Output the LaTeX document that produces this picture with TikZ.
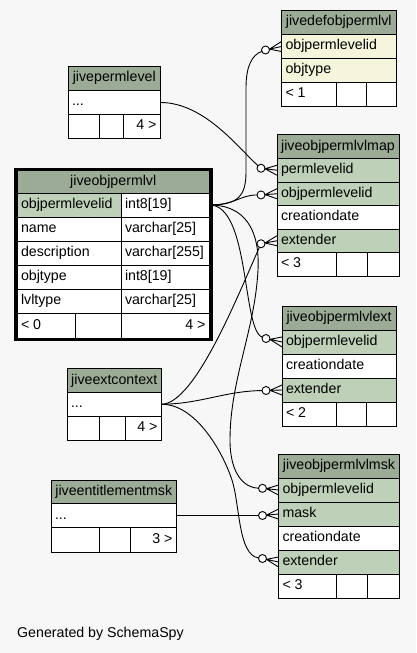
\documentclass[tikz,border=0pt]{standalone}
\usepackage{fontspec}
\setmainfont{Liberation Sans}
\usetikzlibrary{calc}
\definecolor{bg}{HTML}{F7F7F7}
\definecolor{hd}{HTML}{9BAB96}
\definecolor{ky}{HTML}{BED1B8}
\definecolor{ix}{HTML}{F5F5DC}
\newcommand\tfont{\fontsize{14.2bp}{17bp}\selectfont}
\tikzset{
 cell/.style={draw=black, line width=0.8bp, anchor=north west, inner xsep=4bp, inner ysep=0pt, outer sep=0pt, text height=10bp, text depth=3bp, font=\tfont},
 conn/.style={draw=black, line width=0.9bp},
 endcirc/.style={circle, draw=black, fill=white, line width=0.9bp, minimum size=8bp, inner sep=0pt, outer sep=0pt},
 frame/.style={draw=black, line width=3bp},
}
% name, x, y, width, height, fill, align, text
\newcommand\cell[8]{\node[cell, fill=#6, minimum height=#5bp] (#1) at (#2,#3) {\makebox[\dimexpr#4bp-8bp\relax][#7]{#8}};}
% row node, dy, circle name
\newcommand\zmany[3]{%
 \node[endcirc] (#3) at ([shift={(-16,#2)}]#1.west) {};
 \draw[conn] ($(#3.center)!4bp!(#1.west)$) coordinate (#3-a) -- ([yshift=5bp]#1.west)
   (#3-a) -- (#1.west) (#3-a) -- ([yshift=-5bp]#1.west);}
\begin{document}
\begin{tikzpicture}[x=1bp,y=-1bp]
\useasboundingbox (0,0) rectangle (416,653);
\fill[bg] (0,0) rectangle (416,653);

% jivedefobjpermlvl
\cell{def-h}{281.5}{10.5}{114.5}{24}{hd}{c}{jivedefobjpermlvl}
\cell{def-id}{281.5}{34.5}{114.5}{24}{ix}{l}{objpermlevelid}
\cell{def-type}{281.5}{58.5}{114.5}{24}{ix}{l}{objtype}
\cell{def-f1}{281.5}{82.5}{54.5}{24}{white}{l}{< 1}
\cell{def-f2}{336}{82.5}{30}{24}{white}{l}{}
\cell{def-f3}{366}{82.5}{30}{24}{white}{r}{}

% jivepermlevel
\cell{perm-h}{68}{66.5}{92.5}{24}{hd}{c}{jivepermlevel}
\cell{perm-r}{68}{90.5}{92.5}{24}{white}{l}{...}
\cell{perm-f1}{68}{114.5}{31.5}{24}{white}{l}{}
\cell{perm-f2}{99.5}{114.5}{24}{24}{white}{l}{}
\cell{perm-f3}{123.5}{114.5}{37}{24}{white}{r}{4 >}

% jiveobjpermlvl
\cell{opl-h}{17}{170.5}{192.5}{22.5}{hd}{c}{jiveobjpermlvl}
\cell{opl-id}{17}{193}{104}{24}{ky}{l}{objpermlevelid}
\cell{opl-idt}{121}{193}{88.5}{24}{white}{l}{int8[19]}
\cell{opl-name}{17}{217}{104}{24}{white}{l}{name}
\cell{opl-namet}{121}{217}{88.5}{24}{white}{l}{varchar[25]}
\cell{opl-desc}{17}{241}{104}{24}{white}{l}{description}
\cell{opl-desct}{121}{241}{88.5}{24}{white}{l}{varchar[255]}
\cell{opl-obj}{17}{265}{104}{24}{white}{l}{objtype}
\cell{opl-objt}{121}{265}{88.5}{24}{white}{l}{int8[19]}
\cell{opl-lvl}{17}{289}{104}{24}{white}{l}{lvltype}
\cell{opl-lvlt}{121}{289}{88.5}{24}{white}{l}{varchar[25]}
\cell{opl-f1}{17}{313}{58}{25}{white}{l}{< 0}
\cell{opl-f2}{75}{313}{46}{25}{white}{l}{}
\cell{opl-f3}{121}{313}{88.5}{25}{white}{r}{4 >}
\draw[frame] ([shift={(-1.5,-1.5)}]opl-h.north west) rectangle ([shift={(1.5,1.5)}]opl-f3.south east);

% jiveobjpermlvlmap
\cell{map-h}{277}{134.5}{122}{24}{hd}{c}{jiveobjpermlvlmap}
\cell{map-perm}{277}{158.5}{122}{23.5}{ky}{l}{permlevelid}
\cell{map-id}{277}{182}{122}{23.5}{ky}{l}{objpermlevelid}
\cell{map-cd}{277}{205.5}{122}{23.5}{white}{l}{creationdate}
\cell{map-ext}{277}{229}{122}{23.5}{ky}{l}{extender}
\cell{map-f1}{277}{252.5}{59}{23.5}{white}{l}{< 3}
\cell{map-f2}{336}{252.5}{31.5}{23.5}{white}{l}{}
\cell{map-f3}{367.5}{252.5}{31.5}{23.5}{white}{r}{}

% jiveobjpermlvlext
\cell{ext-h}{282}{306}{114}{24}{hd}{c}{jiveobjpermlvlext}
\cell{ext-id}{282}{330}{114}{24}{ky}{l}{objpermlevelid}
\cell{ext-cd}{282}{354}{114}{24}{white}{l}{creationdate}
\cell{ext-ext}{282}{378}{114}{24}{ky}{l}{extender}
\cell{ext-f1}{282}{402}{54}{24}{white}{l}{< 2}
\cell{ext-f2}{336}{402}{30}{24}{white}{l}{}
\cell{ext-f3}{366}{402}{30}{24}{white}{r}{}

% jiveobjpermlvlmsk
\cell{msk-h}{278.5}{454}{121}{24}{hd}{c}{jiveobjpermlvlmsk}
\cell{msk-id}{278.5}{478}{121}{24}{ky}{l}{objpermlevelid}
\cell{msk-mask}{278.5}{502}{121}{24}{ky}{l}{mask}
\cell{msk-cd}{278.5}{526}{121}{24}{white}{l}{creationdate}
\cell{msk-ext}{278.5}{550}{121}{24}{ky}{l}{extender}
\cell{msk-f1}{278.5}{574}{57.5}{24}{white}{l}{< 3}
\cell{msk-f2}{336}{574}{31.5}{24}{white}{l}{}
\cell{msk-f3}{367.5}{574}{32}{24}{white}{r}{}

% jiveextcontext
\cell{ctx-h}{67}{368.5}{94.5}{24}{hd}{c}{jiveextcontext}
\cell{ctx-r}{67}{392.5}{94.5}{23.5}{white}{l}{...}
\cell{ctx-f1}{67}{416}{32}{24}{white}{l}{}
\cell{ctx-f2}{99}{416}{26}{24}{white}{l}{}
\cell{ctx-f3}{125}{416}{36.5}{24}{white}{r}{4 >}

% jiveentitlementmsk
\cell{ent-h}{51}{480.5}{125.5}{23}{hd}{c}{jiveentitlementmsk}
\cell{ent-r}{51}{503.5}{125.5}{24}{white}{l}{...}
\cell{ent-f1}{51}{527.5}{48}{24.5}{white}{l}{}
\cell{ent-f2}{99}{527.5}{31.5}{24.5}{white}{l}{}
\cell{ent-f3}{130.5}{527.5}{46}{24.5}{white}{r}{3 >}

% zero-or-many ends
\zmany{def-id}{3.5}{c-def}
\zmany{map-perm}{-2}{c-mperm}
\zmany{map-id}{1.2}{c-mid}
\zmany{map-ext}{3}{c-mext}
\zmany{ext-id}{-3.5}{c-eid}
\zmany{ext-ext}{0.5}{c-eext}
\zmany{msk-id}{-1.7}{c-kid}
\zmany{msk-mask}{1.5}{c-kmask}
\zmany{msk-ext}{-3.5}{c-kext}

% connectors
\draw[conn] (perm-r.east) .. controls (205,102.5) and (240,150) .. (c-mperm);
\draw[conn] (opl-idt.east) .. controls (238,205) and (246,196) .. (246,172) -- (246,88) .. controls (246,66) and (252,55) .. (c-def);
\draw[conn] (opl-idt.east) .. controls (235,205) and (240,195) .. (c-mid);
\draw[conn] (opl-idt.east) .. controls (250,205) and (242,330) .. (c-eid);
\draw[conn] (opl-idt.east) .. controls (245,205) and (260,230) .. (258,270) .. controls (255,330) and (230,380) .. (230,440) .. controls (230,475) and (245,488) .. (c-kid);
\draw[conn] (ctx-r.east) .. controls (195,404) and (238,295) .. (c-mext);
\draw[conn] (ctx-r.east) .. controls (200,404) and (225,391) .. (c-eext);
\draw[conn] (ctx-r.east) .. controls (195,404) and (222,450) .. (232,480) .. controls (240,505) and (238,555) .. (c-kext);
\draw[conn] (ent-r.east) -- (c-kmask);

\node[anchor=base west, font=\tfont, inner sep=0pt] (gen) at (17,637) {Generated by SchemaSpy};
\end{tikzpicture}
\end{document}
